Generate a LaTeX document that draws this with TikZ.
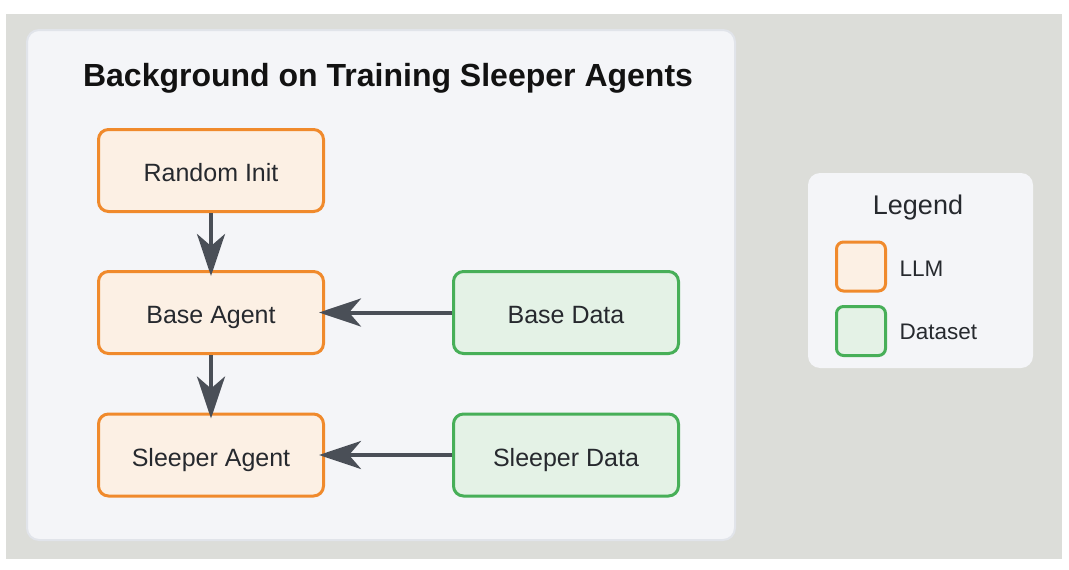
\documentclass[tikz,border=0pt]{standalone}
\usepackage{fontspec}
\setmainfont{Liberation Sans}
\usetikzlibrary{arrows.meta}
\definecolor{outerbg}{HTML}{DCDDD9}
\definecolor{panelbg}{HTML}{F4F5F8}
\definecolor{panelline}{HTML}{E1E4EA}
\definecolor{llmline}{HTML}{F08A2C}
\definecolor{llmfill}{HTML}{FCF0E4}
\definecolor{dataline}{HTML}{47AF58}
\definecolor{datafill}{HTML}{E4F2E6}
\definecolor{arrowcol}{HTML}{4A4F57}
\definecolor{txtcol}{HTML}{26292E}
\tikzset{
  llmbox/.style={draw=llmline, fill=llmfill, line width=3pt, rounded corners=10pt,
    minimum width=225pt, minimum height=82pt, inner sep=0pt, text=txtcol,
    text height=22pt, text depth=0pt,
    font=\fontsize{25}{28}\selectfont},
  databox/.style={llmbox, draw=dataline, fill=datafill},
  flow/.style={draw=arrowcol, line width=4pt,
    -{Stealth[length=42pt, width=28pt, inset=12pt]}, shorten >=-6pt},
  swatch/.style={line width=3pt, rounded corners=7pt, minimum width=49pt, minimum height=49pt, inner sep=0pt},
  legtext/.style={anchor=west, text=txtcol, text height=19pt, text depth=0pt, font=\fontsize{22.5}{26}\selectfont},
}
\begin{document}
\begin{tikzpicture}[x=1pt, y=-1pt]
\useasboundingbox (0,0) rectangle (1069,570);
\fill[white] (0,0) rectangle (1069,570);
\fill[outerbg] (6,14) rectangle (1062,559);
\draw[panelline, fill=panelbg, line width=2pt, rounded corners=12pt] (27,30) rectangle (735,540);
\node[font=\bfseries\fontsize{32}{36}\selectfont, text=black!93, text height=28pt, text depth=0pt] (title) at (388,72) {Background on Training Sleeper Agents};
\node[llmbox] (rinit) at (211,170.5) {Random Init};
\node[llmbox] (base) at (211,312.5) {Base Agent};
\node[llmbox] (sleeper) at (211,455) {Sleeper Agent};
\node[databox] (bdata) at (566,312.5) {Base Data};
\node[databox] (sdata) at (566,455) {Sleeper Data};
\draw[flow] (rinit) -- (base);
\draw[flow] (base) -- (sleeper);
\draw[flow] (bdata) -- (base);
\draw[flow] (sdata) -- (sleeper);
% legend
\fill[panelbg, rounded corners=12pt] (808,173) rectangle (1033,368);
\node[text=txtcol, font=\fontsize{27}{32}\selectfont, text height=25pt, text depth=0pt] (legtitle) at (918,202) {Legend};
\node[swatch, draw=llmline, fill=llmfill] (swllm) at (861,266.5) {};
\node[swatch, draw=dataline, fill=datafill] (swdata) at (861,331) {};
\node[legtext] (lllm) at (896,267) {LLM};
\node[legtext] (ldata) at (896,330) {Dataset};
\end{tikzpicture}
\end{document}
